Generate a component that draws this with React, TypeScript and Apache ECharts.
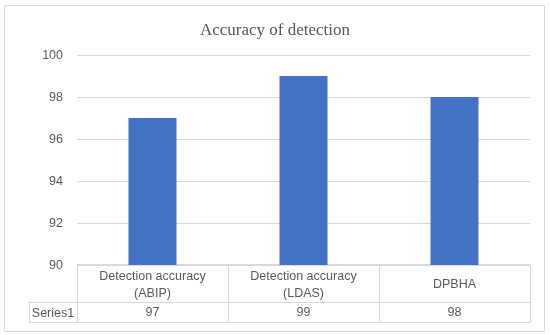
import React, { useEffect, useRef } from "react";
import * as echarts from "echarts";

const titleText = "Accuracy of detection";
const categories = ["Detection accuracy\n(ABIP)", "Detection accuracy\n(LDAS)", "DPBHA"];
const seriesName = "Series1";
const values = [97, 99, 98];
const yMin = 90;
const yMax = 100;
const yStep = 2;

const GRID_LEFT = 77;
const GRID_RIGHT = 530;
const GRID_TOP = 55;
const GRID_BOTTOM = 265;
const ROW_DIV = 302;
const TABLE_BOTTOM = 322;
const LABEL_LEFT = 29;
const LINE = "#d9d9d9";

export default function App() {
  const ref = useRef<HTMLDivElement>(null);
  useEffect(() => {
    if (!ref.current) return;
    const chart = echarts.init(ref.current, undefined, { renderer: "svg" });
    const colW = (GRID_RIGHT - GRID_LEFT) / categories.length;
    const lines: any[] = [];
    const hl = (x1: number, x2: number, y: number) =>
      lines.push({ type: "line", shape: { x1, y1: y, x2, y2: y }, style: { stroke: LINE, lineWidth: 1 }, silent: true });
    const vl = (x: number, y1: number, y2: number) =>
      lines.push({ type: "line", shape: { x1: x, y1, x2: x, y2 }, style: { stroke: LINE, lineWidth: 1 }, silent: true });
    hl(GRID_LEFT, GRID_RIGHT, GRID_BOTTOM - 0.5);
    hl(LABEL_LEFT, GRID_RIGHT, ROW_DIV + 0.5);
    hl(LABEL_LEFT, GRID_RIGHT, TABLE_BOTTOM + 0.5);
    vl(LABEL_LEFT + 0.5, ROW_DIV, TABLE_BOTTOM);
    for (let i = 0; i <= categories.length; i++) {
      vl(Math.round(GRID_LEFT + i * colW) + 0.5, GRID_BOTTOM, TABLE_BOTTOM);
    }
    chart.setOption({
      animation: false,
      title: {
        text: titleText,
        left: "center",
        top: 16,
        textStyle: { fontFamily: "Liberation Serif", fontSize: 17, fontWeight: "normal", color: "#595959" },
      },
      grid: { left: GRID_LEFT, right: 550 - GRID_RIGHT, top: GRID_TOP, bottom: 335 - GRID_BOTTOM },
      xAxis: [
        {
          type: "category",
          data: categories,
          axisLine: { show: false },
          axisTick: { show: false },
          axisLabel: {
            interval: 0,
            margin: 19,
            verticalAlign: "middle",
            fontFamily: "Liberation Sans",
            fontSize: 12.5,
            lineHeight: 17,
            color: "#595959",
          },
        },
        {
          type: "category",
          position: "bottom",
          offset: 39,
          data: values.map((v) => String(v)),
          axisLine: { show: false },
          axisTick: { show: false },
          axisLabel: {
            interval: 0,
            margin: 8,
            verticalAlign: "middle",
            fontFamily: "Liberation Sans",
            fontSize: 12.5,
            color: "#595959",
          },
        },
      ],
      yAxis: {
        type: "value",
        min: yMin,
        max: yMax,
        interval: yStep,
        axisLine: { show: false },
        axisTick: { show: false },
        axisLabel: { fontFamily: "Liberation Sans", fontSize: 12.5, color: "#595959", margin: 14 },
        splitLine: { lineStyle: { color: LINE, width: 1 } },
      },
      series: [
        {
          name: seriesName,
          type: "bar",
          data: values,
          barWidth: 48,
          itemStyle: { color: "#4472c4" },
        },
      ],
      graphic: [
        {
          type: "rect",
          shape: { x: 4.5, y: 5.5, width: 540, height: 326 },
          style: { fill: "none", stroke: LINE, lineWidth: 1 },
          silent: true,
        },
        ...lines,
        {
          type: "text",
          x: (LABEL_LEFT + GRID_LEFT) / 2,
          y: (ROW_DIV + TABLE_BOTTOM) / 2 + 1,
          style: {
            text: seriesName,
            fontFamily: "Liberation Sans",
            fontSize: 12.5,
            fill: "#595959",
            align: "center",
            verticalAlign: "middle",
          },
        },
      ],
    });
    return () => chart.dispose();
  }, []);
  return (
    <div style={{ position: "fixed", left: 0, top: 0 }}>
      <div ref={ref} style={{ width: 550, height: 335 }} />
    </div>
  );
}
